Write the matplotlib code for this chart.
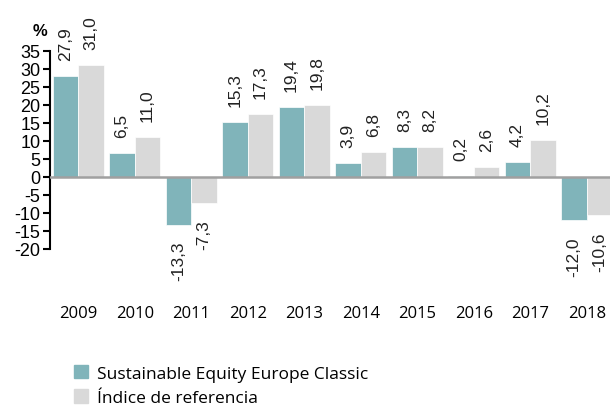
import numpy as np
import matplotlib
matplotlib.use("Agg")
from matplotlib import pyplot as plt
from matplotlib.patches import Patch

years = ["2009", "2010", "2011", "2012", "2013", "2014", "2015", "2016", "2017", "2018"]
fund = [27.9, 6.5, -13.3, 15.3, 19.4, 3.9, 8.3, 0.2, 4.2, -12.0]
index = [31.0, 11.0, -7.3, 17.3, 19.8, 6.8, 8.2, 2.6, 10.2, -10.6]
yticks = [35, 30, 25, 20, 15, 10, 5, 0, -5, -10, -15, -20]

teal = "#80b4ba"
grey = "#d9d9d9"
font = "Liberation Sans"
font2 = "Open Sans"

W, H = 610, 406
fig = plt.figure(figsize=(W / 100, H / 100), dpi=100)
# axes in pixel coords: left 50, right 615, value 35 at y=51.7, value -35.5 at y=305.8
top_px, bot_px = 51.7, 305.8
ax = fig.add_axes([50 / W, 1 - bot_px / H, 565 / W, (bot_px - top_px) / H])

x = np.arange(len(years))
bw = 0.45
ax.bar(x - bw / 2, fund, bw, color=teal, edgecolor="white", linewidth=0.5)
ax.bar(x + bw / 2, index, bw, color=grey, edgecolor="white", linewidth=0.5)
ax.axhline(0, color="#a0a0a0", linewidth=1.8, zorder=3)

ax.set_xlim(-0.5, 9.5)
ax.set_ylim(-35.5, 35)

def label(xpos, v):
    txt = f"{v:.1f}".replace(".", ",")
    off = 16 * 0.72
    ax.annotate(txt, (xpos, v), xytext=(0, off if v >= 0 else -off),
                textcoords="offset points", rotation=90, ha="center",
                va="bottom" if v >= 0 else "top", fontsize=12.5,
                family=font, color="#222222", annotation_clip=False)

for i in range(len(years)):
    label(x[i] - bw / 2, fund[i])
    label(x[i] + bw / 2, index[i])

for s in ["top", "right", "bottom"]:
    ax.spines[s].set_visible(False)
ax.spines["left"].set_bounds(-20, 35)
ax.spines["left"].set_linewidth(1.5)
ax.set_yticks(yticks)
ax.set_yticklabels([str(t) for t in yticks], family=font, fontsize=13)
ax.tick_params(axis="y", length=5, width=1.5, pad=2)
ax.set_xticks(x)
ax.set_xticklabels(years, family=font2, fontsize=12)
ax.tick_params(axis="x", length=0, pad=0)

fig.text(40 / W, 1 - 32 / H, "%", fontsize=12, fontweight="bold", family=font,
         ha="center", va="center")

handles = [Patch(color=teal, label="Sustainable Equity Europe Classic"),
           Patch(color=grey, label="Índice de referencia")]
fig.legend(handles=handles, loc="upper left", bbox_to_anchor=(74 / W, 1 - 366 / H),
           frameon=False, prop={"family": font2, "size": 12.5},
           handlelength=0.8, handleheight=0.8, handletextpad=0.55,
           labelspacing=0.45, borderpad=0, borderaxespad=0)

fig.savefig("out.png", dpi=100)
